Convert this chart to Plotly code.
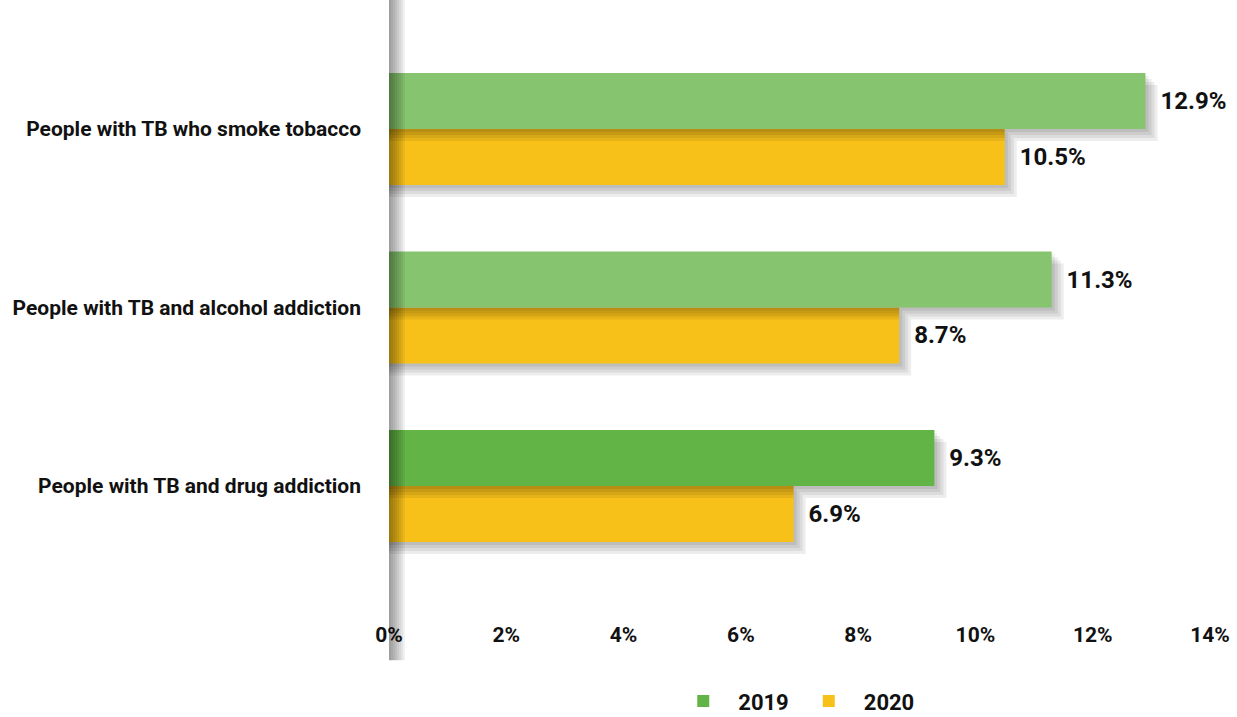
import plotly.graph_objects as go

# ---- data (bottom to top) ----
categories = ["People with TB and drug addiction",
              "People with TB and alcohol addiction",
              "People with TB who smoke tobacco"]
values_2019 = [9.3, 11.3, 12.9]
values_2020 = [6.9, 8.7, 10.5]
colors_2019 = ["#63b446", "#86c46f", "#86c46f"]
color_2020 = "#f8c11a"
x_ticks = [0, 2, 4, 6, 8, 10, 12, 14]
x_tick_labels = ["0%", "2%", "4%", "6%", "8%", "10%", "12%", "14%"]

FONT = "Roboto, Liberation Sans, Arial"
BAR_W = 0.3137          # bar thickness in category units
PX_X = 1 / 58.6         # one pixel in % units
PX_Y = 1 / 178.5        # one pixel in category units

fig = go.Figure()

idx = list(range(len(categories)))

def shadow_traces(vals, offset):
    out = []
    for i in range(1, 5):
        out.append(go.Bar(
            y=idx, x=[v + i * 3 * PX_X for v in vals], orientation="h",
            base=0, offset=offset - i * 3 * PX_Y, width=BAR_W,
            marker=dict(color="rgba(0,0,0,0.07)", line=dict(width=0)),
            showlegend=False, hoverinfo="skip"))
    return out

# 2020 (lower bar in each group)
for t in shadow_traces(values_2020, -BAR_W):
    fig.add_trace(t)
fig.add_trace(go.Bar(
    y=idx, x=values_2020, orientation="h", name="2020",
    offset=-BAR_W, width=BAR_W,
    marker=dict(color=color_2020, line=dict(width=0)),
    text=values_2020, texttemplate="\u00a0\u00a0%{x:.1f}%",
    textposition="outside", constraintext="none", cliponaxis=False,
    textfont=dict(family=FONT, size=24, color="#111111", weight="bold"),
    legendrank=2))

# 2019 (upper bar in each group)
for t in shadow_traces(values_2019, 0):
    fig.add_trace(t)
fig.add_trace(go.Bar(
    y=idx, x=values_2019, orientation="h", name="2019",
    offset=0, width=BAR_W,
    marker=dict(color=colors_2019, line=dict(width=0)),
    text=values_2019, texttemplate="\u00a0\u00a0%{x:.1f}%",
    textposition="outside", constraintext="none", cliponaxis=False,
    textfont=dict(family=FONT, size=24, color="#111111", weight="bold"),
    legendrank=1))

# axis "wall" with soft shadow
shapes = [dict(type="rect", xref="x", yref="paper", xsizemode="pixel", xanchor=0,
               x0=0, x1=w, y0=-0.066, y1=1.02, line=dict(width=0),
               fillcolor="rgba(0,0,0,0.055)", layer="above")
          for w in [2, 4, 6, 8, 10, 12, 14, 16]]

fig.update_layout(
    width=1237, height=717,
    margin=dict(l=389, r=27, t=10, b=97, autoexpand=False),
    barmode="overlay",
    plot_bgcolor="white", paper_bgcolor="white",
    font=dict(family=FONT, color="#111111"),
    shapes=shapes,
    showlegend=True,
    legend=dict(orientation="h", x=0.493, xanchor="center", y=-0.133, yanchor="middle",
                font=dict(family=FONT, size=22, color="#111111", weight="bold"),
                itemwidth=60, traceorder="normal"),
    xaxis=dict(range=[0, 14], tickvals=x_ticks, ticktext=x_tick_labels,
               showgrid=False, zeroline=False, showline=False, ticks="",
               automargin=False,
               tickfont=dict(family=FONT, size=21, color="#111111", weight="bold")),
    yaxis=dict(range=[-0.751, 2.667], tickvals=idx, ticktext=categories,
               showgrid=False, zeroline=False, showline=False, ticks="",
               automargin=False, ticklabelstandoff=27,
               tickfont=dict(family=FONT, size=21, color="#111111", weight="bold")),
)

fig.write_html("out.html")
